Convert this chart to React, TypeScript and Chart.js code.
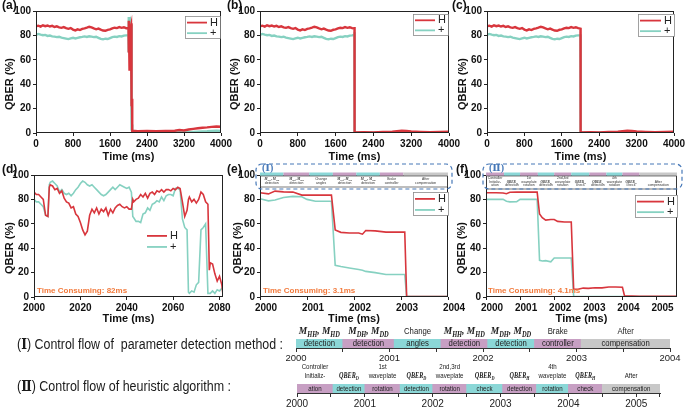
import React, { useEffect, useRef } from 'react';
import { Chart, registerables } from 'chart.js';

Chart.register(...registerables);

const SANS = '"Liberation Sans", Arial, Helvetica, sans-serif';
const SERIF = '"Liberation Serif", "DejaVu Serif", "Times New Roman", serif';

const RED = '#d8363d';
const TEAL = '#86d1c1';
const ORANGE = '#f27a3c';
const BLUE = '#4678b8';
const SEG_FILL: Record<string, string> = { c: '#8bd7d7', p: '#c79fc3', g: '#c8c8c8' };

// ---------------- data ----------------
// 0 - 1950 ms (panels a, b, c before compensation)
const PRE_T = [0, 50, 100, 150, 200, 250, 300, 350, 400, 450, 500, 550, 600, 650, 700, 750, 800, 850, 900, 950,
  1000, 1050, 1100, 1150, 1200, 1250, 1300, 1350, 1400, 1450, 1500, 1550, 1600, 1650, 1700, 1750, 1800, 1850, 1900, 1950];
const PRE_H = [87.5, 88.0, 87.2, 88.3, 87.6, 88.1, 87.3, 87.8, 86.9, 87.4,
  86.6, 86.2, 86.8, 85.9, 85.4, 86.0, 84.8, 84.1, 85.0, 84.4,
  85.3, 85.8, 86.4, 87.1, 86.5, 85.7, 85.0, 85.6, 84.7, 84.0,
  83.8, 84.6, 84.9, 85.8, 86.3, 86.0, 86.8, 86.2, 86.7, 85.9];
const PRE_P = [80.5, 81.2, 80.6, 80.1, 80.4, 79.6, 79.9, 79.2, 79.0, 78.6,
  78.9, 78.2, 77.8, 77.4, 77.0, 77.6, 78.1, 77.5, 78.0, 78.5,
  78.8, 79.2, 78.7, 79.3, 79.0, 78.6, 78.9, 78.0, 77.1, 76.8,
  77.3, 77.0, 77.8, 78.6, 79.0, 78.7, 79.4, 79.1, 79.8, 80.0];

// panel d (2000 - 2082 ms)
const D_T = [2000, 2001, 2002, 2003, 2004, 2005, 2006, 2006.6, 2007, 2008,
  2009, 2010, 2011, 2012, 2013, 2014, 2015, 2016, 2017, 2018,
  2019, 2020, 2021, 2022, 2023, 2024, 2025, 2026, 2027, 2028,
  2029, 2030, 2031, 2032, 2033, 2034, 2035, 2036, 2037, 2038,
  2039, 2040, 2041, 2042, 2042.6, 2043, 2044, 2045, 2046, 2047,
  2048, 2049, 2050, 2051, 2052, 2053, 2054, 2055, 2056, 2057,
  2058, 2059, 2060, 2061, 2062, 2063, 2064, 2065, 2066, 2066.6,
  2067, 2068, 2069, 2070, 2071, 2072, 2073, 2074, 2075, 2075.6,
  2076, 2077, 2078, 2079, 2080, 2081, 2081.5];
const D_H = [86, 84, 84, 82, 80, 67, 66, 90, 92, 91,
  88, 89, 85, 87, 81, 78, 77, 73, 74, 68,
  66, 61, 55, 51, 54, 67, 72, 69, 73, 68,
  72, 70, 73, 67, 72, 69, 73, 75, 76, 74,
  73, 74, 72, 72, 80, 78, 80, 81, 84, 82,
  85, 81, 85, 86, 84, 87, 86, 88, 86, 88,
  88, 87, 89, 88, 90, 89, 78, 66, 71, 80,
  82, 78, 80, 77, 80, 86, 84, 78, 76, 22,
  28, 27, 19, 13, 17, 10, 2];
const D_P = [80, 78, 78, 76, 74, 67, 66, 92, 94, 95,
  93, 91, 86, 88, 85, 84, 85, 83, 85, 88,
  90, 93, 95, 94, 92, 91, 92, 90, 88, 86,
  84, 83, 84, 86, 88, 90, 88, 90, 92, 91,
  90, 89, 90, 86, 66, 65, 62, 62, 61, 68,
  69, 73, 71, 76, 77, 79, 78, 82, 79, 83,
  84, 84, 83, 89, 89, 88, 64, 57, 55, 4,
  3, 5, 4, 10, 12, 55, 57, 60, 3, 3,
  3, 5, 3, 6, 5, 7, 6];

// panel e (parameter detection method)
const E_T = [2000, 2000.18, 2000.32, 2000.5, 2000.7, 2000.89, 2001.0, 2001.18, 2001.52, 2001.6,
  2001.72, 2001.9, 2002.1, 2002.18, 2002.25, 2002.45, 2002.68, 2003.08, 2003.12, 2003.5, 2004];
const E_H = [85.5, 84.5, 86.8, 86.2, 86.0, 83.5, 83.5, 83.5, 83.5, 55,
  53, 52.5, 52.5, 51.5, 54.5, 54.2, 53.2, 53.2, 0.5, 0.4, 0.4];
const E_P = [80.5, 78.8, 79.5, 81.5, 82.5, 82.2, 80, 78.5, 78.5, 26,
  25, 23.8, 22.5, 22, 21, 20, 18.5, 18.5, 0.3, 0.3, 0.3];

// panel f (heuristic algorithm)
const F_T = [2000, 2000.3, 2000.5, 2000.6, 2000.7, 2000.9, 2001.0, 2001.2, 2001.5, 2001.57,
  2001.65, 2001.75, 2001.9, 2002.0, 2002.1, 2002.3, 2002.5, 2002.57, 2002.7, 2002.85,
  2003.0, 2003.2, 2003.4, 2003.6, 2003.8, 2004.0, 2004.06, 2004.5, 2005.6];
const F_H = [85.5, 85.5, 85.3, 84.7, 85.8, 86, 86, 86, 86, 68,
  65, 63, 63.5, 63.5, 62, 61.5, 61.5, 6.5, 6.3, 7.3,
  7.1, 7.6, 7.5, 8.2, 8.2, 8.0, 1, 0.5, 0.5];
const F_P = [80, 80, 80, 78.5, 78, 78.2, 80, 80, 80, 30,
  29.5, 29.8, 28.8, 32, 32, 32, 32, 0.5, 0.4, 0.4,
  0.4, 0.4, 0.4, 0.4, 0.4, 0.4, 0.4, 0.4, 0.4];

// after compensation
const A_POST_T = [2090, 2200, 2400, 2600, 2800, 3000, 3100, 3200, 3300, 3400, 3500, 3600, 3700, 3800, 3900, 4000];
const A_POST_H = [1.8, 1.5, 1.7, 1.4, 1.6, 1.9, 2.4, 2.1, 2.9, 3.4, 3.9, 4.3, 4.6, 5.0, 5.3, 5.1];
const A_POST_P = [0.4, 0.3, 0.4, 0.3, 0.5, 0.4, 0.6, 0.5, 0.8, 0.9, 1.1, 1.3, 1.4, 1.6, 1.8, 1.7];
const BC_POST_T = [2200, 2400, 2600, 2800, 2900, 3000, 3100, 3200, 3400, 3600, 3800, 4000];
const BC_POST_H = [0.7, 0.5, 0.8, 1.0, 1.5, 1.9, 1.6, 1.2, 0.9, 0.7, 0.9, 1.1];
const BC_POST_P = [0.3, 0.2, 0.3, 0.4, 0.8, 1.2, 1.0, 0.6, 0.4, 0.3, 0.4, 0.5];

// control flow (I) parameter detection method
const SEG_I_BOUNDS = [2000, 2000.5, 2001.05, 2001.55, 2002.05, 2002.55, 2003.05, 2004];
const SEG_I_KIND = ['c', 'p', 'c', 'p', 'c', 'p', 'g'];
const SEG_I_TOP = ['$M_{HH}, M_{HD}', '$M_{DH}, M_{DD}', 'Change', '$M_{HH}, M_{HD}', '$M_{DH}, M_{DD}', 'Brake', 'After'];
const SEG_I_BAR = ['detection', 'detection', 'angles', 'detection', 'detection', 'controller', 'compensation'];

// control flow (II) heuristic algorithm
const SEG_II_BOUNDS = [2000, 2000.53, 2001.0, 2001.52, 2002.0, 2002.5, 2003.03, 2003.53, 2004.0, 2004.5, 2005.35];
const SEG_II_KIND = ['p', 'c', 'p', 'c', 'p', 'c', 'p', 'c', 'p', 'g'];
const SEG_II_L0 = ['Controller', '', '1st', '', '2nd,3rd', '', '', '4th', '', ''];
const SEG_II_L1 = ['Initializ-', '$QBER_{D}', 'waveplate', '$QBER_{D}', 'waveplate', '$QBER_{D}', '$QBER_{H}', 'waveplate', '$QBER_{H}', 'After'];
const SEG_II_BAR = ['ation', 'detection', 'rotation', 'detection', 'rotation', 'check', 'detection', 'rotation', 'check', 'compensation'];

const LEGEND_LABELS = ['H', '+'];

// ---------------- helpers ----------------
const pts = (t: number[], v: number[]) => t.map((x, i) => ({ x, y: v[i] }));

function drawRich(ctx: CanvasRenderingContext2D, text: string, cx: number, cy: number, size: number, sx: number, color: string, mathScale = 1) {
  const math = text.startsWith('$');
  const s = math ? text.slice(1) : text;
  const parts = s.split(/_\{([^}]*)\}/);
  const fs = math ? size * mathScale : size;
  const mainFont = math ? `italic bold ${fs.toFixed(2)}px ${SERIF}` : `${fs.toFixed(2)}px ${SANS}`;
  const subFont = math ? `italic bold ${(fs * 0.68).toFixed(2)}px ${SERIF}` : `${(fs * 0.68).toFixed(2)}px ${SANS}`;
  const widths: number[] = [];
  let w = 0;
  parts.forEach((p, i) => {
    ctx.font = i % 2 ? subFont : mainFont;
    const pw = ctx.measureText(p).width;
    widths.push(pw);
    w += pw;
  });
  ctx.save();
  ctx.translate(cx, cy);
  ctx.scale(sx, 1);
  ctx.fillStyle = color;
  ctx.textAlign = 'left';
  ctx.textBaseline = 'middle';
  let x = -w / 2;
  parts.forEach((p, i) => {
    ctx.font = i % 2 ? subFont : mainFont;
    ctx.fillText(p, x, i % 2 ? fs * 0.3 : 0);
    x += widths[i];
  });
  ctx.restore();
}

function drawDesc(ctx: CanvasRenderingContext2D, parts: [string, string][], x: number, y: number, targetW: number) {
  const size = 14;
  const fontOf = (k: string) => (k === 'roman' ? `bold ${size}px ${SERIF}` : `${size}px ${SANS}`);
  let w = 0;
  const ws: number[] = [];
  parts.forEach(([t, k]) => { ctx.font = fontOf(k); const m = ctx.measureText(t).width; ws.push(m); w += m; });
  const sx = targetW / w;
  ctx.save();
  ctx.translate(x, y);
  ctx.scale(sx, 1);
  ctx.fillStyle = '#1a1a1a';
  ctx.textAlign = 'left';
  ctx.textBaseline = 'middle';
  let cx = 0;
  parts.forEach(([t, k], i) => { ctx.font = fontOf(k); ctx.fillText(t, cx, 0); cx += ws[i]; });
  ctx.restore();
}

const DESC_I: [string, string][] = [['(', 'sans'], ['Ⅰ', 'roman'], [') Control flow of  parameter detection method :', 'sans']];
const DESC_II: [string, string][] = [['(', 'sans'], ['Ⅱ', 'roman'], [') Control flow of heuristic algorithm :', 'sans']];

// ---------------- panels ----------------
type Mini = { bounds: number[]; kinds: string[]; lines: string[][]; ys: number[]; boxH: number; rect: number[]; roman: string };
type PanelCfg = {
  id: string; left: number; top: number; width: number; height: number;
  area: number[]; xMin: number; xMax: number; xStep: number; labelOffset: number;
  h: { x: number; y: number }[]; p: { x: number; y: number }[]; lw: number;
  tag: string; tagX: number; tagY: number; yTitleX: number; yTitleY: number; xTitleY: number;
  legend: { x: number; y: number; w: number; h: number; border: boolean };
  timeText?: string; timeX?: number; timeY?: number; mini?: Mini;
};

const ROW1 = { top: 0, height: 166, t: 11, b: 133, yTitleY: 84, xTitleY: 157, tagY: 6 };
const ROW2 = { top: 158, height: 170, t: 175, b: 297, yTitleY: 248, xTitleY: 319, tagY: 170 };

const PANELS: PanelCfg[] = [
  {
    id: 'a', left: 0, top: ROW1.top, width: 236, height: ROW1.height, area: [36, ROW1.t, 221, ROW1.b],
    xMin: 0, xMax: 4000, xStep: 800, labelOffset: 0,
    h: [...pts(PRE_T, PRE_H), ...pts(D_T, D_H), ...pts(A_POST_T, A_POST_H)],
    p: [...pts(PRE_T, PRE_P), ...pts(D_T, D_P), ...pts(A_POST_T, A_POST_P)], lw: 2.4,
    tag: '(a)', tagX: 2, tagY: ROW1.tagY, yTitleX: 10, yTitleY: ROW1.yTitleY, xTitleY: ROW1.xTitleY,
    legend: { x: 185, y: 16, w: 35, h: 22, border: true },
  },
  {
    id: 'b', left: 226, top: ROW1.top, width: 236, height: ROW1.height, area: [260, ROW1.t, 449, ROW1.b],
    xMin: 0, xMax: 4000, xStep: 800, labelOffset: 0,
    h: [...pts(PRE_T, PRE_H), ...pts(E_T, E_H), ...pts(BC_POST_T, BC_POST_H)],
    p: [...pts(PRE_T, PRE_P), ...pts(E_T, E_P), ...pts(BC_POST_T, BC_POST_P)], lw: 2.4,
    tag: '(b)', tagX: 227, tagY: ROW1.tagY, yTitleX: 235, yTitleY: ROW1.yTitleY, xTitleY: ROW1.xTitleY,
    legend: { x: 413, y: 14, w: 35, h: 21, border: true },
  },
  {
    id: 'c', left: 451, top: ROW1.top, width: 234, height: ROW1.height, area: [487, ROW1.t, 674, ROW1.b],
    xMin: 0, xMax: 4000, xStep: 800, labelOffset: 0,
    h: [...pts(PRE_T, PRE_H), ...pts(F_T, F_H), ...pts(BC_POST_T, BC_POST_H)],
    p: [...pts(PRE_T, PRE_P), ...pts(F_T, F_P), ...pts(BC_POST_T, BC_POST_P)], lw: 2.4,
    tag: '(c)', tagX: 452, tagY: ROW1.tagY, yTitleX: 463, yTitleY: ROW1.yTitleY, xTitleY: ROW1.xTitleY,
    legend: { x: 638, y: 14, w: 36, h: 22, border: true },
  },
  {
    id: 'd', left: 0, top: ROW2.top, width: 236, height: ROW2.height, area: [34, ROW2.t, 223, ROW2.b],
    xMin: 2000, xMax: 2081.5, xStep: 20, labelOffset: 0,
    h: pts(D_T, D_H), p: pts(D_T, D_P), lw: 1.6,
    tag: '(d)', tagX: 2, tagY: ROW2.tagY, yTitleX: 10, yTitleY: ROW2.yTitleY, xTitleY: ROW2.xTitleY,
    legend: { x: 145, y: 229, w: 35, h: 23, border: false },
    timeText: 'Time Consuming: 82ms', timeX: 37, timeY: 291,
  },
  {
    id: 'e', left: 226, top: ROW2.top, width: 246, height: ROW2.height, area: [260, ROW2.t, 448, ROW2.b],
    xMin: 2000, xMax: 2004, xStep: 1, labelOffset: 6,
    h: pts(E_T, E_H), p: pts(E_T, E_P), lw: 1.6,
    tag: '(e)', tagX: 227, tagY: ROW2.tagY, yTitleX: 238, yTitleY: ROW2.yTitleY, xTitleY: ROW2.xTitleY,
    legend: { x: 413, y: 192, w: 35, h: 23, border: true },
    timeText: 'Time Consuming: 3.1ms', timeX: 263, timeY: 291,
    mini: { bounds: SEG_I_BOUNDS, kinds: SEG_I_KIND, lines: [SEG_I_TOP, SEG_I_BAR], ys: [4.5, 8.5], boxH: 11, rect: [256, 164, 452, 189], roman: 'Ⅰ' },
  },
  {
    id: 'f', left: 455, top: ROW2.top, width: 230, height: ROW2.height, area: [486, ROW2.t, 677, ROW2.b],
    xMin: 2000, xMax: 2005.6, xStep: 1, labelOffset: 6,
    h: pts(F_T, F_H), p: pts(F_T, F_P), lw: 1.6,
    tag: '(f)', tagX: 456, tagY: ROW2.tagY, yTitleX: 462, yTitleY: ROW2.yTitleY, xTitleY: ROW2.xTitleY,
    legend: { x: 635, y: 195, w: 42, h: 22, border: true },
    timeText: 'Time Consuming: 4.1ms', timeX: 488, timeY: 291,
    mini: { bounds: SEG_II_BOUNDS, kinds: SEG_II_KIND, lines: [SEG_II_L0, SEG_II_L1, SEG_II_BAR], ys: [3.5, 7, 10.5], boxH: 13, rect: [483, 164, 682, 189], roman: 'Ⅱ' },
  },
];

function panelDecor(cfg: PanelCfg) {
  return {
    id: 'decor_' + cfg.id,
    afterDatasetsDraw(chart: any) {
      const ctx: CanvasRenderingContext2D = chart.ctx;
      const ca = chart.chartArea;
      const ox = cfg.left, oy = cfg.top;
      ctx.save();
      // frame
      const l = Math.round(ca.left) + 0.5, t = Math.round(ca.top) + 0.5;
      const r = Math.round(ca.right) - 0.5, b = Math.round(ca.bottom) - 0.5;
      ctx.strokeStyle = '#222';
      ctx.lineWidth = 1;
      ctx.strokeRect(l, t, r - l, b - t);

      // mini control-flow strip
      if (cfg.mini) {
        const m = cfg.mini;
        const xs = chart.scales.x;
        const n = m.kinds.length;
        for (let i = 0; i < n; i++) {
          const x0 = xs.getPixelForValue(m.bounds[i]);
          const x1 = i === n - 1 ? ca.right : xs.getPixelForValue(m.bounds[i + 1]);
          ctx.fillStyle = SEG_FILL[m.kinds[i]];
          ctx.fillRect(x0, ca.top - 2.5, x1 - x0, 3.5);
        }
        ctx.strokeStyle = '#444';
        ctx.lineWidth = 0.7;
        ctx.strokeRect(ca.left + 0.5, ca.top + 1, ca.right - ca.left - 1, m.boxH);
        for (let i = 0; i < n; i++) {
          const x0 = xs.getPixelForValue(m.bounds[i]);
          const x1 = i === n - 1 ? ca.right : xs.getPixelForValue(m.bounds[i + 1]);
          m.lines.forEach((line, j) => {
            if (line[i]) drawRich(ctx, line[i], (x0 + x1) / 2, ca.top + m.ys[j], 3.4, 1, '#333');
          });
        }
        // dashed outline
        ctx.setLineDash([4, 3]);
        ctx.strokeStyle = BLUE;
        ctx.lineWidth = 1.2;
        ctx.beginPath();
        const [rx0, ry0, rx1, ry1] = m.rect;
        (ctx as any).roundRect(rx0 - ox, ry0 - oy, rx1 - rx0, ry1 - ry0, 6);
        ctx.stroke();
        ctx.setLineDash([]);
        ctx.fillStyle = BLUE;
        ctx.font = `bold 10px ${SERIF}`;
        ctx.textAlign = 'left';
        ctx.textBaseline = 'middle';
        ctx.fillText('(' + m.roman + ')', rx0 - ox + 6, ry0 - oy + 4);
      }

      // legend
      const lg = cfg.legend;
      const lx = lg.x - ox, ly = lg.y - oy;
      if (lg.border) {
        ctx.fillStyle = '#fff';
        ctx.fillRect(lx, ly, lg.w, lg.h);
        ctx.strokeStyle = '#8a8a8a';
        ctx.lineWidth = 0.8;
        ctx.strokeRect(lx + 0.5, ly + 0.5, lg.w, lg.h);
      }
      const lineLen = lg.w - 15;
      [RED, TEAL].forEach((col, i) => {
        const yy = ly + (i === 0 ? lg.h * 0.3 : lg.h * 0.78);
        ctx.strokeStyle = col;
        ctx.lineWidth = 1.8;
        ctx.beginPath();
        ctx.moveTo(lx + 2, yy);
        ctx.lineTo(lx + 2 + lineLen, yy);
        ctx.stroke();
        ctx.fillStyle = '#222';
        ctx.font = `11px ${SANS}`;
        ctx.textAlign = 'left';
        ctx.textBaseline = 'middle';
        ctx.fillText(LEGEND_LABELS[i], lx + lineLen + 5, yy);
      });

      // time consuming
      if (cfg.timeText) {
        ctx.fillStyle = ORANGE;
        ctx.font = `bold 8px ${SANS}`;
        ctx.textAlign = 'left';
        ctx.textBaseline = 'middle';
        ctx.fillText(cfg.timeText, (cfg.timeX as number) - ox, (cfg.timeY as number) - oy);
      }
      ctx.restore();
    },
    afterDraw(chart: any) {
      const ctx: CanvasRenderingContext2D = chart.ctx;
      const ca = chart.chartArea;
      const ox = cfg.left, oy = cfg.top;
      ctx.save();
      ctx.fillStyle = '#111';
      ctx.font = `bold 12px ${SANS}`;
      ctx.textAlign = 'left';
      ctx.textBaseline = 'middle';
      ctx.fillText(cfg.tag, cfg.tagX - ox, cfg.tagY - oy);
      ctx.font = `bold 11px ${SANS}`;
      ctx.textAlign = 'center';
      ctx.fillText('Time (ms)', (ca.left + ca.right) / 2, cfg.xTitleY - oy);
      ctx.translate(cfg.yTitleX - ox, cfg.yTitleY - oy);
      ctx.rotate(-Math.PI / 2);
      ctx.fillText('QBER (%)', 0, 0);
      ctx.restore();
    },
  };
}

function panelConfig(cfg: PanelCfg): any {
  const [al, at, ar, ab] = cfg.area;
  const yW = al - cfg.left;
  const xH = cfg.top + cfg.height - ab;
  const tickFont = { family: SANS, size: 10, weight: 'bold' as const };
  return {
    type: 'line',
    data: {
      datasets: [
        { label: LEGEND_LABELS[0], data: cfg.h, borderColor: RED, borderWidth: cfg.lw, pointRadius: 0, tension: 0, fill: false },
        { label: LEGEND_LABELS[1], data: cfg.p, borderColor: TEAL, borderWidth: cfg.lw, pointRadius: 0, tension: 0, fill: false },
      ],
    },
    options: {
      responsive: false,
      animation: false,
      events: [],
      layout: { padding: { left: 0, top: at - cfg.top, right: cfg.left + cfg.width - ar, bottom: 0 } },
      plugins: { legend: { display: false }, tooltip: { enabled: false } },
      scales: {
        x: {
          type: 'linear', min: cfg.xMin, max: cfg.xMax,
          afterFit: (s: any) => { s.height = xH; s.paddingLeft = 0; s.paddingRight = 0; },
          grid: { drawOnChartArea: false, tickLength: 3, color: '#222' },
          border: { display: false },
          ticks: {
            stepSize: cfg.xStep, includeBounds: false, autoSkip: false, maxRotation: 0, padding: 2,
            labelOffset: cfg.labelOffset, font: tickFont, color: '#111',
            callback: (v: number) => String(Math.round(v)),
          },
        },
        y: {
          type: 'linear', min: 0, max: 100,
          afterFit: (s: any) => { s.width = yW; s.paddingTop = 0; s.paddingBottom = 0; },
          grid: { drawOnChartArea: false, tickLength: 3, color: '#222' },
          border: { display: false },
          ticks: { stepSize: 20, padding: 2, font: tickFont, color: '#111', callback: (v: number) => String(v) },
        },
      },
    },
    plugins: [panelDecor(cfg)],
  };
}

// ---------------- control-flow timelines ----------------
type TLCfg = {
  id: string; top: number; height: number; l: number; r: number; barTop: number; barBottom: number;
  xMin: number; xMax: number; bounds: number[]; kinds: string[]; lines: string[][]; lineYs: number[];
  size: number; sx: number; mathScale: number; yearSize: number; desc: [string, string][]; descX: number; descY: number; descW: number;
};

const TIMELINES: TLCfg[] = [
  {
    id: 'I', top: 322, height: 46, l: 296, r: 670, barTop: 339, barBottom: 348, xMin: 2000, xMax: 2004,
    bounds: SEG_I_BOUNDS, kinds: SEG_I_KIND, lines: [SEG_I_TOP, SEG_I_BAR], lineYs: [331.5, 343.5],
    size: 9, sx: 0.86, mathScale: 1.22, yearSize: 9.5, desc: DESC_I, descX: 17, descY: 345, descW: 266,
  },
  {
    id: 'II', top: 360, height: 48, l: 297, r: 660, barTop: 384, barBottom: 393, xMin: 2000, xMax: 2005.35,
    bounds: SEG_II_BOUNDS, kinds: SEG_II_KIND, lines: [SEG_II_L0, SEG_II_L1, SEG_II_BAR], lineYs: [367, 376, 388.5],
    size: 7.5, sx: 0.82, mathScale: 1, yearSize: 10, desc: DESC_II, descX: 17, descY: 387, descW: 214,
  },
];

function tlDecor(cfg: TLCfg) {
  return {
    id: 'tl_' + cfg.id,
    afterDatasetsDraw(chart: any) {
      const ctx: CanvasRenderingContext2D = chart.ctx;
      const xs = chart.scales.x;
      const ca = chart.chartArea;
      const n = cfg.kinds.length;
      for (let i = 0; i < n; i++) {
        const cx = (xs.getPixelForValue(cfg.bounds[i]) + xs.getPixelForValue(cfg.bounds[i + 1])) / 2;
        cfg.lines.forEach((line, j) => {
          if (line[i]) drawRich(ctx, line[i], cx, cfg.lineYs[j] - cfg.top, cfg.size, cfg.sx, '#222', cfg.mathScale);
        });
      }
      // closing tick at the axis end when it is not on the 0.5 grid
      const endX = Math.round(xs.getPixelForValue(cfg.xMax)) - 0.5;
      if (Math.abs(cfg.xMax * 2 - Math.round(cfg.xMax * 2)) > 1e-6) {
        ctx.save();
        ctx.strokeStyle = '#333';
        ctx.lineWidth = 1;
        ctx.beginPath();
        ctx.moveTo(endX, ca.bottom);
        ctx.lineTo(endX, ca.bottom + 4);
        ctx.stroke();
        ctx.restore();
      }
      drawDesc(ctx, cfg.desc, cfg.descX, cfg.descY - cfg.top, cfg.descW);
    },
  };
}

function tlConfig(cfg: TLCfg): any {
  const xH = cfg.top + cfg.height - cfg.barBottom;
  return {
    type: 'bar',
    data: {
      labels: ['row'],
      datasets: [{
        data: cfg.kinds.map((_, i) => ({ x: [cfg.bounds[i], cfg.bounds[i + 1]], y: 'row' })),
        backgroundColor: cfg.kinds.map((k) => SEG_FILL[k]),
        borderWidth: 0,
        barThickness: cfg.barBottom - cfg.barTop,
      }],
    },
    options: {
      indexAxis: 'y',
      responsive: false,
      animation: false,
      events: [],
      layout: { padding: { left: cfg.l, right: 685 - cfg.r, top: cfg.barTop - cfg.top, bottom: 0 } },
      plugins: { legend: { display: false }, tooltip: { enabled: false } },
      scales: {
        y: { type: 'category', display: false },
        x: {
          type: 'linear', min: cfg.xMin, max: cfg.xMax,
          afterFit: (s: any) => { s.height = xH; s.paddingLeft = 0; s.paddingRight = 0; },
          grid: { drawOnChartArea: false, tickLength: 4, color: '#333' },
          border: { display: true, color: '#333', width: 1 },
          ticks: {
            stepSize: 0.5, includeBounds: false, autoSkip: false, maxRotation: 0, padding: 1,
            font: { family: SANS, size: cfg.yearSize }, color: '#222',
            callback: (v: number) => (Math.abs(v - Math.round(v)) < 1e-6 ? String(Math.round(v)) : ''),
          },
        },
      },
    },
    plugins: [tlDecor(cfg)],
  };
}

// ---------------- components ----------------
function ChartCanvas({ left, top, width, height, make }: { left: number; top: number; width: number; height: number; make: () => any }) {
  const ref = useRef<HTMLCanvasElement>(null);
  useEffect(() => {
    const chart = new Chart(ref.current as HTMLCanvasElement, make());
    return () => chart.destroy();
  }, []);
  return (
    <canvas
      ref={ref}
      width={width}
      height={height}
      style={{ position: 'absolute', left, top, width, height, display: 'block' }}
    />
  );
}

export default function App() {
  return (
    <div style={{ position: 'absolute', left: 0, top: 0, width: 685, height: 408, background: '#fff', overflow: 'hidden' }}>
      {PANELS.map((p) => (
        <ChartCanvas key={p.id} left={p.left} top={p.top} width={p.width} height={p.height} make={() => panelConfig(p)} />
      ))}
      {TIMELINES.map((t) => (
        <ChartCanvas key={t.id} left={0} top={t.top} width={685} height={t.height} make={() => tlConfig(t)} />
      ))}
    </div>
  );
}
